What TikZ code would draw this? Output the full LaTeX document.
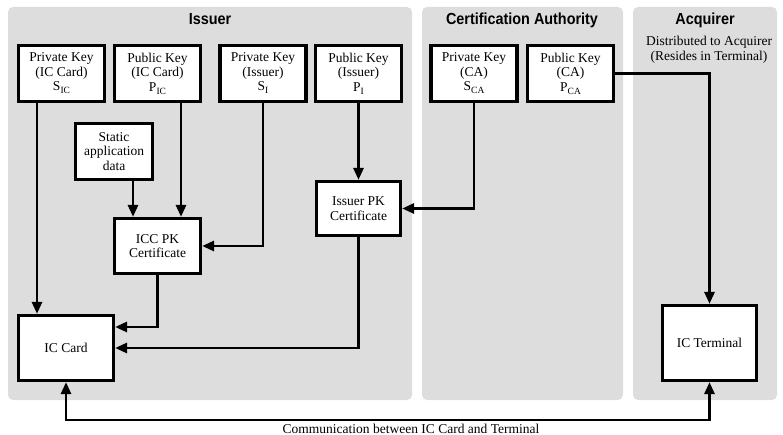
\documentclass[tikz,border=0pt]{standalone}
\usepackage{fontspec}
\setmainfont{Liberation Serif}
\newfontfamily\panelfont[FakeStretch=0.9]{Liberation Sans}
\usetikzlibrary{calc,arrows.meta}
\definecolor{panelgray}{HTML}{DDDDDD}
\newcommand{\keysub}[1]{\raisebox{-3pt}{\fontsize{9.5}{10}\selectfont #1}}

\begin{document}
\begin{tikzpicture}[x=1pt,y=-1pt,
  keybox/.style={draw,line width=3.2pt,fill=white,align=center,inner sep=1pt,
    minimum width=86pt,minimum height=56pt,font=\fontsize{13.5}{14.5}\selectfont},
  flow/.style={line width=2.8pt,-{Triangle[length=12pt,width=10pt]}},
  paneltitle/.style={anchor=base,font=\panelfont\bfseries\fontsize{16}{18}\selectfont},
  plain/.style={font=\fontsize{13.5}{15}\selectfont,align=center}]
  \useasboundingbox (0,0) rectangle (783,435);
  % panels
  \fill[panelgray,rounded corners=5pt] (8,7) rectangle (412,400);
  \fill[panelgray,rounded corners=5pt] (422,7) rectangle (623,400);
  \fill[panelgray,rounded corners=5pt] (633,7) rectangle (777,400);
  \node[paneltitle] (issuer) at (210,25) {Issuer};
  \node[paneltitle] (ca) at (522,25) {Certification Authority};
  \node[paneltitle] (acq) at (705,25) {Acquirer};
  \node[plain] (distr) at (709,50) {Distributed to Acquirer\\(Resides in Terminal)};
  % keys
  \node[keybox] (skic) at (61.5,73.5) {Private Key\\(IC Card)\\S\keysub{IC}};
  \node[keybox] (pkic) at (157.5,73.5) {Public Key\\(IC Card)\\P\keysub{IC}};
  \node[keybox] (ski) at (263,73.5) {Private Key\\(Issuer)\\S\keysub{I}};
  \node[keybox] (pki) at (358.5,73.5) {Public Key\\(Issuer)\\P\keysub{I}};
  \node[keybox] (skca) at (474,73.5) {Private Key\\(CA)\\S\keysub{CA}};
  \node[keybox] (pkca) at (570.5,73.5) {Public Key\\(CA)\\P\keysub{CA}};
  % data and certificates
  \node[keybox,minimum width=77pt] (sad) at (114,151.5) {Static\\application\\data};
  \node[keybox,minimum width=84pt,minimum height=54pt] (ipkc) at (358.5,208.5) {Issuer PK\\Certificate};
  \node[keybox,minimum height=55pt] (iccpk) at (157.5,246) {ICC PK\\Certificate};
  \node[keybox,minimum width=95pt,minimum height=65pt] (iccard) at (66,348) {IC Card};
  \node[keybox,minimum width=94pt,minimum height=75pt] (term) at (709.5,343) {IC Terminal};
  % flows
  \draw[flow] ([xshift=-24.5pt]skic.south) -- ([xshift=-24.5pt]skic.south |- iccard.north);
  \draw[flow] ([xshift=23.5pt]pkic.south) -- ([xshift=23.5pt]pkic.south |- iccpk.north);
  \draw[flow] ([xshift=19pt]sad.south) -- ([xshift=19pt]sad.south |- iccpk.north);
  \draw[flow] (ski.south) |- (iccpk.east);
  \draw[flow] (pki) -- (ipkc);
  \draw[flow] (skca.south) |- (ipkc.east);
  \draw[flow] (pkca.east) -| (term.north);
  \draw[flow] (iccpk.south) |- ([yshift=21pt]iccard.east);
  \draw[flow] (ipkc.south) |- (iccard.east);
  % card to terminal
  \coordinate (commbend) at (400,420);
  \draw[flow,{Triangle[length=12pt,width=10pt]}-{Triangle[length=12pt,width=10pt]}]
    (iccard.south) |- (commbend) -| (term.south);
  \node[plain] (comm) at (411,429) {Communication between IC Card and Terminal};
\end{tikzpicture}
\end{document}
